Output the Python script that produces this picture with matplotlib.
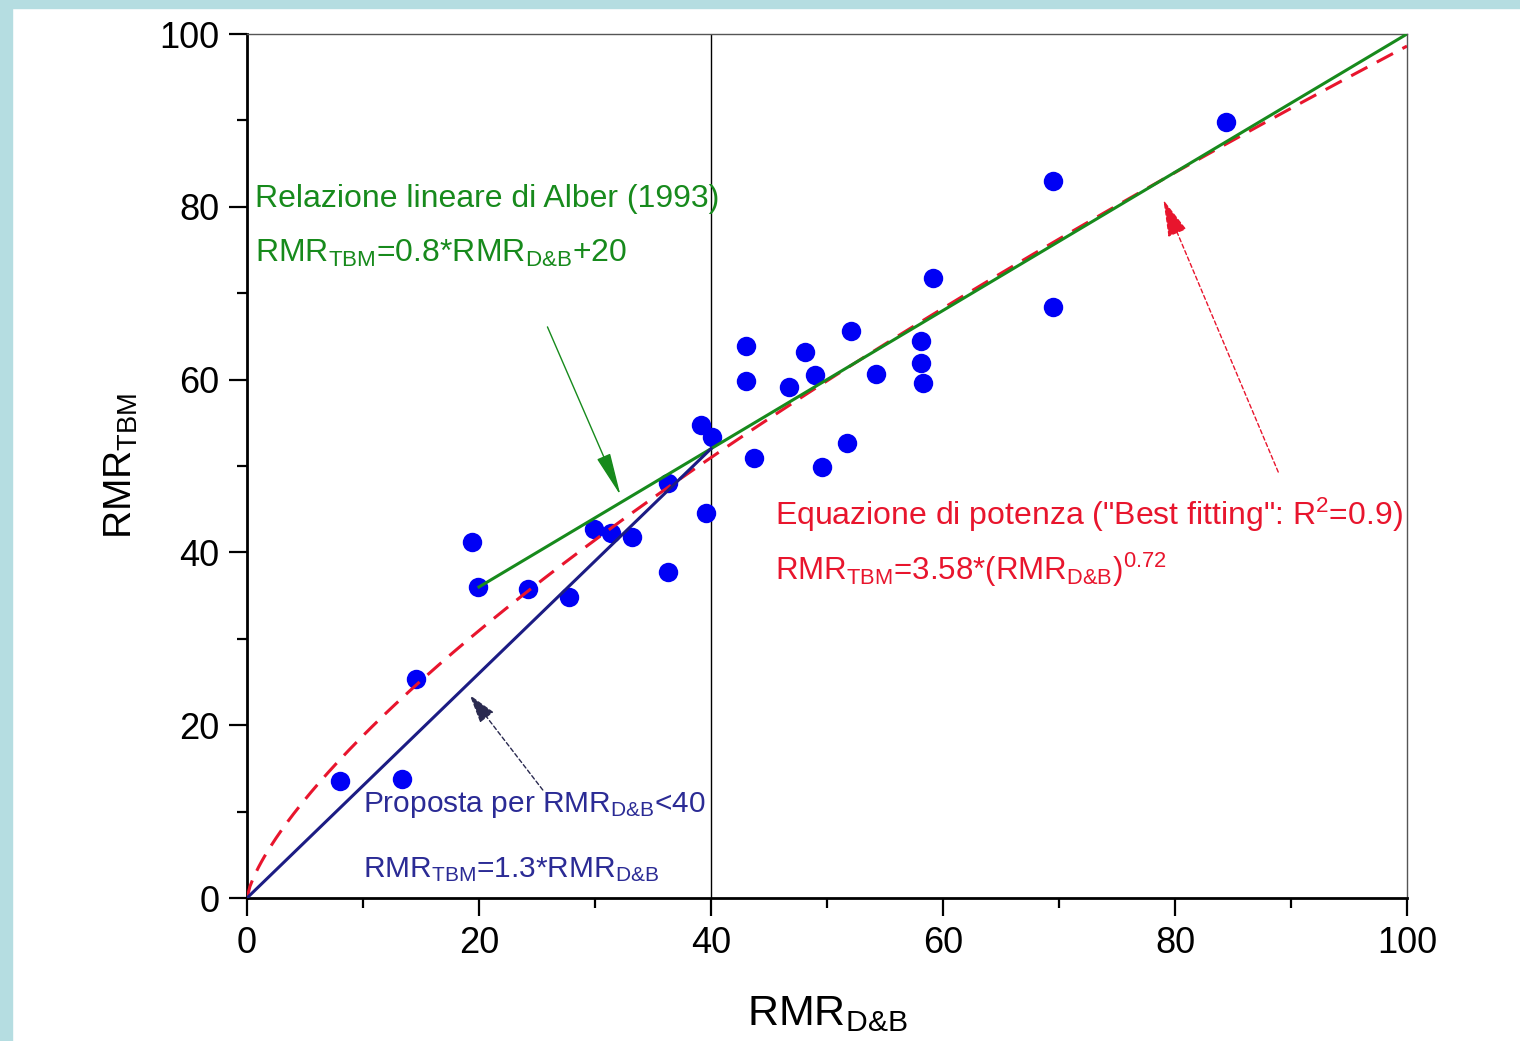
import numpy as np
import matplotlib
matplotlib.use('Agg')
import matplotlib.pyplot as plt
from matplotlib.patches import Rectangle

# punti misurati (RMR D&B, RMR TBM)
rmr_db = [8.0, 13.4, 14.6, 19.4, 19.9, 24.2, 27.8, 29.9, 31.4, 33.2,
          36.3, 36.3, 39.1, 40.1, 39.6, 43.0, 43.0, 43.7, 46.7, 48.1,
          49.0, 49.6, 51.7, 52.1, 54.2, 58.1, 58.1, 58.3, 59.1, 69.5,
          69.5, 84.4]
rmr_tbm = [13.5, 13.8, 25.3, 41.2, 36.0, 35.8, 34.8, 42.7, 42.3, 41.8,
           37.7, 48.0, 54.7, 53.4, 44.6, 63.9, 59.8, 50.9, 59.2, 63.2,
           60.5, 49.9, 52.7, 65.6, 60.6, 64.5, 61.9, 59.6, 71.8, 83.0,
           68.4, 89.8]

# retta di Alber (1993) e proposta per RMR D&B < 40
alber_x = [20, 100]
alber_y = [36, 100]
prop_x = [0, 40]
prop_y = [0, 52]
# equazione di potenza: 3.58 * x^0.72
pow_a = 3.58
pow_b = 0.72

ticks = [0, 20, 40, 60, 80, 100]

GREEN = '#178a1c'
RED = '#e8152d'
NAVY = '#1c1c84'
NAVY_TXT = '#2b2b95'

plt.rcParams['font.family'] = ['Liberation Sans', 'DejaVu Sans']
plt.rcParams['mathtext.fontset'] = 'custom'
plt.rcParams['mathtext.rm'] = 'Liberation Sans'
plt.rcParams['mathtext.default'] = 'regular'

fig = plt.figure(figsize=(15.2, 10.41), dpi=100)
fig.patch.set_facecolor('white')
# bordo azzurro (sinistra e in alto)
fig.patches.append(Rectangle((0, 0), 12 / 1520, 1, transform=fig.transFigure,
                             color='#b5dde1', zorder=-10))
fig.patches.append(Rectangle((0, 1 - 8 / 1041), 1, 8 / 1041, transform=fig.transFigure,
                             color='#b5dde1', zorder=-10))

ax = fig.add_axes([247 / 1520, 1 - 898 / 1041, (1407 - 247) / 1520, (898 - 34) / 1041])

ax.plot(rmr_db, rmr_tbm, 'o', color='#0000f5', markersize=14, markeredgewidth=0, zorder=2)

xs = np.linspace(0, 100, 400)
ax.plot(xs, pow_a * xs ** pow_b, '--', color=RED, lw=2.2, dashes=(6, 3.5), zorder=3)
ax.plot(alber_x, alber_y, '-', color=GREEN, lw=2.2, zorder=4)
ax.plot(prop_x, prop_y, '-', color=NAVY, lw=2.2, zorder=4)
ax.axvline(40, color='black', lw=1, zorder=1)

ax.set_xlim(0, 100)
ax.set_ylim(0, 100)
ax.set_xticks(ticks)
ax.set_yticks(ticks)
ax.set_xticks([10, 30, 50, 70, 90], minor=True)
ax.set_yticks([10, 30, 50, 70, 90], minor=True)
ax.tick_params(which='major', direction='out', length=13, width=1.6, labelsize=26, pad=7)
ax.tick_params(which='minor', direction='out', length=7, width=1.6)
ax.tick_params(top=False, right=False, which='both')

for s in ['left', 'bottom']:
    ax.spines[s].set_linewidth(2)
for s in ['top', 'right']:
    ax.spines[s].set_linewidth(1)
    ax.spines[s].set_color('#555555')

ax.set_xlabel('RMR$_{D&B}$', fontsize=31, labelpad=24)
ax.set_ylabel('RMR$_{TBM}$', fontsize=28, labelpad=14)

# testi
fs = 23
ax.text(0.7, 80.0, 'Relazione lineare di Alber (1993)', color=GREEN, fontsize=fs, va='baseline')
ax.text(0.7, 73.6, 'RMR$_{TBM}$=0.8*RMR$_{D&B}$+20', color=GREEN, fontsize=fs, va='baseline')
ax.text(45.5, 43.2, 'Equazione di potenza ("Best fitting": R$^{2}$=0.9)', color=RED,
        fontsize=fs, va='baseline')
ax.text(45.5, 36.8, 'RMR$_{TBM}$=3.58*(RMR$_{D&B}$)$^{0.72}$', color=RED,
        fontsize=fs - 0.5, va='baseline')
ax.text(10.0, 10.0, 'Proposta per RMR$_{D&B}$<40', color=NAVY_TXT, fontsize=fs - 1.5, va='baseline')
ax.text(10.0, 2.4, 'RMR$_{TBM}$=1.3*RMR$_{D&B}$', color=NAVY_TXT, fontsize=fs - 1.5, va='baseline')

# frecce
ax.annotate('', xy=(32.2, 46.6), xytext=(25.9, 66.1),
            arrowprops=dict(arrowstyle='-|>,head_length=1.5,head_width=0.25',
                            color=GREEN, lw=1, mutation_scale=18, shrinkA=0, shrinkB=0))
ax.annotate('', xy=(19.2, 23.5), xytext=(25.5, 12.5),
            arrowprops=dict(arrowstyle='-|>,head_length=1.0,head_width=0.3',
                            color='#2a2a50', lw=1, ls=(0, (3, 2)), mutation_scale=18,
                            shrinkA=0, shrinkB=0))
ax.annotate('', xy=(79.0, 80.8), xytext=(88.9, 49.3),
            arrowprops=dict(arrowstyle='-|>,head_length=1.3,head_width=0.35',
                            color=RED, lw=1, ls=(0, (3, 2)), mutation_scale=18,
                            shrinkA=0, shrinkB=0))

fig.savefig('out.png', dpi=100, facecolor='white')
